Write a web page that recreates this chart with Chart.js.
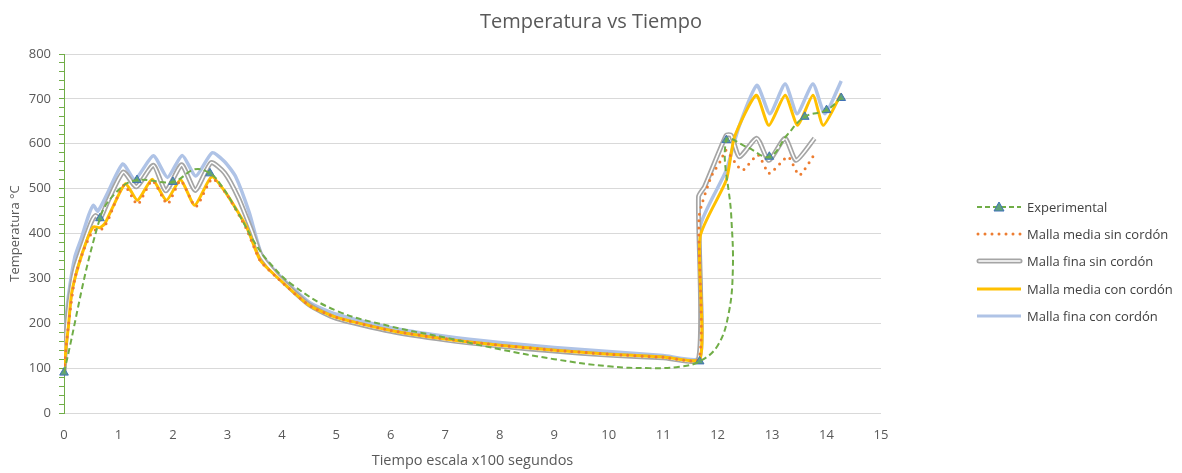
<!DOCTYPE html>
<html>
<head>
<meta charset="utf-8">
<script src="https://cdn.jsdelivr.net/npm/chart.js@4.4.0/dist/chart.umd.min.js"></script>
<style>
  html, body { margin: 0; padding: 0; background: #fff; }
  #wrap { position: relative; width: 1182px; height: 473px; }
  #legend { position: absolute; left: 976px; top: 193px; font-family: "Open Sans", sans-serif; font-size: 13px; color: #404040; }
  .item { display: flex; align-items: center; height: 27.3px; }
  .item svg { margin-right: 4px; }
</style>
</head>
<body>
<div id="wrap">
  <canvas id="chart" width="1182" height="473"></canvas>
  <div id="legend"></div>
</div>
<script>
// Experimental (dashed green, triangle markers on the measured points)
const expX = [0, 0.66, 1.0, 1.34, 2.0, 2.4, 2.68, 2.9, 3.2, 3.5, 3.75, 4.2, 5.0, 6.0, 7.0, 8.0, 9.0, 10.0, 10.75, 11.3, 11.67, 12.0, 12.2, 12.28, 12.25, 12.16, 12.55, 12.95, 13.28, 13.6, 14.0, 14.27];
const expY = [90, 434, 497, 519, 515, 543, 534, 505, 445, 380, 338, 285, 228, 193, 168, 142, 120, 104, 100, 103, 115, 150, 220, 320, 440, 608, 592, 571, 620, 660, 675, 702];
const expMarkX = [0, 0.66, 1.34, 2.0, 2.68, 11.67, 12.16, 12.95, 13.6, 14.0, 14.27];
const expMarkY = [90, 434, 519, 515, 534, 115, 608, 571, 660, 675, 702];

// Malla media sin cordón
const mmsX = [0, 0.04, 0.1, 0.2, 0.35, 0.5, 0.6, 0.7, 0.8, 1.1, 1.35, 1.62, 1.9, 2.14, 2.42, 2.72, 3.0, 3.35, 3.6, 3.9, 4.5, 5, 6, 7, 8, 9, 10, 11, 11.66, 11.66, 11.88, 12.07, 12.15, 12.45, 12.74, 12.95, 13.29, 13.5, 13.75];
const mmsY = [92, 150, 215, 300, 360, 400, 410, 410, 428, 508, 465, 518, 466, 518, 460, 522, 485, 410, 340, 303, 240, 213, 184, 165, 151, 140, 131, 124, 121, 437, 526, 565, 586, 541, 575, 534, 571, 530, 571];

// Malla fina sin cordón
const mfsX = [0, 0.04, 0.1, 0.2, 0.35, 0.5, 0.58, 0.66, 0.8, 1.09, 1.33, 1.64, 1.87, 2.16, 2.41, 2.7, 2.95, 3.2, 3.45, 3.62, 3.9, 4.5, 5, 6, 7, 8, 9, 10, 11, 11.65, 11.65, 11.76, 12.16, 12.25, 12.4, 12.72, 12.94, 13.24, 13.44, 13.78];
const mfsY = [92, 175, 250, 320, 375, 425, 440, 432, 470, 537, 504, 552, 495, 553, 496, 558, 535, 480, 405, 350, 308, 241, 211, 182, 163, 149, 138, 129, 123, 120, 482, 504, 619, 619, 571, 612, 563, 612, 563, 612];

// Malla media con cordón
const mmcX = [0, 0.04, 0.08, 0.14, 0.26, 0.42, 0.54, 0.66, 0.75, 0.9, 1.13, 1.35, 1.62, 1.88, 2.14, 2.4, 2.71, 2.98, 3.35, 3.6, 3.9, 4.5, 5, 6, 7, 8, 9, 10, 11, 11.68, 11.68, 12.16, 12.31, 12.71, 12.94, 13.24, 13.47, 13.75, 13.94, 14.27];
const mmcY = [92, 150, 192, 267, 326, 385, 415, 413, 422, 460, 511, 474, 521, 474, 520, 463, 526, 489, 415, 341, 304, 240, 213, 184, 165, 151, 140, 131, 125, 121, 393, 519, 615, 708, 641, 708, 641, 708, 641, 712];

// Malla fina con cordón
const mfcX = [0, 0.03, 0.08, 0.2, 0.32, 0.45, 0.54, 0.62, 0.8, 1.08, 1.3, 1.64, 1.9, 2.17, 2.42, 2.72, 2.95, 3.15, 3.4, 3.62, 3.9, 4.5, 5, 6, 7, 8, 9, 10, 11, 11.68, 11.68, 12.16, 12.37, 12.72, 12.96, 13.24, 13.46, 13.75, 13.97, 14.27];
const mfcY = [92, 190, 259, 348, 390, 440, 463, 450, 490, 555, 520, 573, 525, 574, 528, 580, 560, 527, 447, 356, 313, 247, 220, 190, 171, 157, 146, 137, 128, 124, 415, 541, 630, 730, 667, 733, 667, 733, 667, 740];

const xTicks = [0, 15, 1];
const yTicks = [0, 800, 100];

function pts(xs, ys) {
  return xs.map((x, i) => ({ x: x, y: ys[i] }));
}

const FONT = '"Open Sans", sans-serif';
const simBase = { pointRadius: 0, pointHoverRadius: 0, fill: false, tension: 0.2 };

const datasets = [
  {
    label: "Experimental",
    data: pts(expX, expY),
    borderColor: "#70AD47",
    borderWidth: 2,
    borderDash: [6, 3.5],
    pointRadius: 0,
    fill: false,
    tension: 0.4,
  },
  {
    label: "Experimental puntos",
    data: pts(expMarkX, expMarkY),
    showLine: false,
    clip: false,
    pointStyle: "triangle",
    pointRadius: 5,
    pointBackgroundColor: "#5fa37a",
    pointBorderColor: "#3f70b8",
    pointBorderWidth: 1,
  },
  Object.assign({}, simBase, {
    label: "Malla media sin cordón",
    data: pts(mmsX, mmsY),
    borderColor: "#ED7D31",
    borderWidth: 3,
    borderDash: [0, 7],
    borderCapStyle: "round",
  }),
  Object.assign({}, simBase, {
    label: "Malla media con cordón",
    data: pts(mmcX, mmcY),
    borderColor: "#FFC000",
    borderWidth: 3,
  }),
  Object.assign({}, simBase, {
    label: "Malla fina sin cordón (interior)",
    data: pts(mfsX, mfsY),
    borderColor: "#ffffff",
    borderWidth: 1.6,
  }),
  Object.assign({}, simBase, {
    label: "Malla fina sin cordón",
    data: pts(mfsX, mfsY),
    borderColor: "#A5A5A5",
    borderWidth: 5,
  }),
  Object.assign({}, simBase, {
    label: "Malla fina con cordón",
    data: pts(mfcX, mfcY),
    borderColor: "#AFC3E6",
    borderWidth: 3.5,
  }),
];

new Chart(document.getElementById("chart"), {
  type: "line",
  data: { datasets },
  options: {
    responsive: false,
    animation: false,
    devicePixelRatio: 1,
    layout: { padding: 0 },
    plugins: {
      legend: { display: false },
      tooltip: { enabled: false },
      title: {
        display: true,
        text: "Temperatura vs Tiempo",
        color: "#595959",
        font: { family: FONT, size: 20, weight: "normal" },
        padding: { top: 10, bottom: 20 },
      },
    },
    scales: {
      x: {
        type: "linear",
        min: xTicks[0],
        max: xTicks[1],
        afterFit: (s) => { s.height = 60; },
        ticks: { stepSize: xTicks[2], color: "#595959", font: { family: FONT, size: 13 }, padding: 14 },
        grid: { display: false, drawTicks: false },
        border: { display: false },
        title: {
          display: true,
          text: "Tiempo escala x100 segundos",
          color: "#595959",
          font: { family: FONT, size: 14.5 },
          padding: { top: 0, bottom: 3 },
        },
      },
      y: {
        min: yTicks[0],
        max: yTicks[1],
        afterFit: (s) => { s.width = 64; },
        ticks: {
          stepSize: 20,
          autoSkip: false,
          color: "#595959",
          font: { family: FONT, size: 13 },
          padding: 8,
          callback: (v) => (v % yTicks[2] === 0 ? v : ""),
        },
        grid: {
          color: (c) => (c.tick && c.tick.value % yTicks[2] === 0 ? "#D9D9D9" : "rgba(0,0,0,0)"),
          tickColor: "#70AD47",
          tickLength: 5,
          lineWidth: 1,
        },
        border: { display: true, color: "#70AD47", width: 1 },
        title: {
          display: true,
          text: "Temperatura °C",
          color: "#595959",
          font: { family: FONT, size: 13 },
          padding: { top: 7, bottom: 0 },
        },
      },
      // empty right-hand band that holds the legend
      side: {
        position: "right",
        afterFit: (s) => { s.width = 301; },
        ticks: { display: false },
        grid: { display: false, drawTicks: false },
        border: { display: false },
      },
    },
  },
});

// legend
const legendItems = [
  ["Experimental", '<line x1="1" y1="7" x2="45" y2="7" stroke="#70AD47" stroke-width="2" stroke-dasharray="5,3"/><polygon points="23,2 28,11 18,11" fill="#5fa37a" stroke="#3f70b8" stroke-width="1"/>'],
  ["Malla media sin cordón", '<line x1="2" y1="7" x2="45" y2="7" stroke="#ED7D31" stroke-width="3" stroke-linecap="round" stroke-dasharray="0,7"/>'],
  ["Malla fina sin cordón", '<line x1="3" y1="7" x2="44" y2="7" stroke="#A5A5A5" stroke-width="5" stroke-linecap="round"/><line x1="3" y1="7" x2="44" y2="7" stroke="#fff" stroke-width="1.6" stroke-linecap="round"/>'],
  ["Malla media con cordón", '<line x1="1" y1="7" x2="45" y2="7" stroke="#FFC000" stroke-width="3"/>'],
  ["Malla fina con cordón", '<line x1="1" y1="7" x2="45" y2="7" stroke="#AFC3E6" stroke-width="3"/>'],
];
const legendEl = document.getElementById("legend");
legendItems.forEach(([text, svg]) => {
  const row = document.createElement("div");
  row.className = "item";
  row.innerHTML = '<svg width="47" height="14">' + svg + "</svg><span>" + text + "</span>";
  legendEl.appendChild(row);
});
</script>
</body>
</html>
